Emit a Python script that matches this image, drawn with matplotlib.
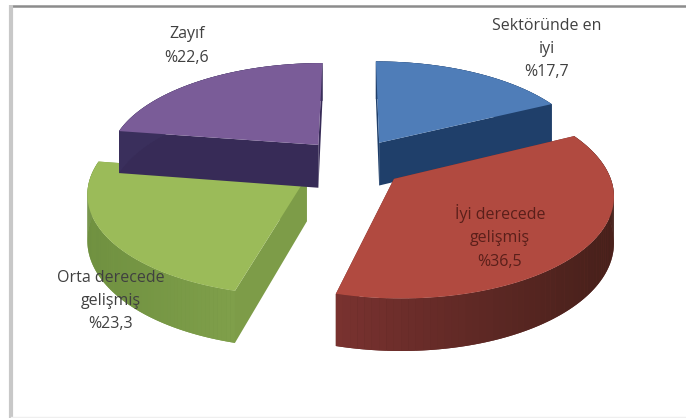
import numpy as np
import matplotlib
matplotlib.use('Agg')
import matplotlib.pyplot as plt
from matplotlib.colors import to_rgb

labels = ['Sektöründe en\niyi', 'İyi derecede\ngelişmiş', 'Orta derecede\ngelişmiş', 'Zayıf']
values = [17.7, 36.5, 23.3, 22.6]
top_colors = ['#4f7db8', '#b14a40', '#9bbb59', '#7a5c98']
rim_left = ['#1f3f6a', '#7a3230', '#6f9040', '#3a2f5c']
rim_right = ['#1f3f6a', '#46201a', '#7f9f4a', '#3a2f5c']
wall_colors = ['#1f3f6a', '#6a2a28', '#7d9c48', '#372b57']
label_colors = ['#404040', '#5a1f1a', '#404040', '#404040']
label_pos = [(547, 49), (500, 237), (111, 301), (187, 46)]

# pie projection, in figure pixels
CX, CY = 352, 163
SX, SY = 212, 98
PERSP = 0.14
EXPLODE = 0.25
DEPTH = 44


def project(x, y, z=0.0):
    w = 1 + PERSP * y
    return CX + SX * x / w, CY - SY * y / w + DEPTH * z / w


def mix(a, b, t):
    a, b = np.array(to_rgb(a)), np.array(to_rgb(b))
    return a + (b - a) * t


fig = plt.figure(figsize=(6.86, 4.18), dpi=100)
ax = fig.add_axes([0, 0, 1, 1])
ax.set_xlim(0, 686)
ax.set_ylim(418, 0)
ax.axis('off')

# chart frame
ax.plot([11, 686], [5.5, 5.5], color='#8c8c8c', lw=1.8, solid_capstyle='butt')
ax.plot([11, 11], [5, 418], color='#c8c8c8', lw=3, solid_capstyle='butt')
ax.plot([11, 686], [417, 417], color='#efefef', lw=1)

# slices run clockwise from the top
total = sum(values)
ends = 90 - np.cumsum(values) / total * 360
starts = np.r_[90, ends[:-1]]


def draw_slice(i):
    a0, a1 = np.radians(starts[i]), np.radians(ends[i])
    mid = (a0 + a1) / 2
    ox, oy = EXPLODE * np.cos(mid), EXPLODE * np.sin(mid)
    t = np.linspace(a0, a1, 80)
    x = ox + np.cos(t)
    y = oy + np.sin(t)

    # radial walls, only the ones facing the viewer show after the top face
    for idx in (0, -1):
        wx = [ox, x[idx], x[idx], ox]
        wy = [oy, y[idx], y[idx], oy]
        wz = [0, 0, 1, 1]
        px, py = project(np.array(wx), np.array(wy), np.array(wz))
        ax.fill(px, py, color=wall_colors[i], lw=0, zorder=2 + i * 0.1)

    # curved rim, shaded left to right over a flat base so no seams show
    tx, ty = project(x, y)
    bx, by = project(x, y, 1.0)
    span = max(tx.max() - tx.min(), 1)
    base = mix(rim_left[i], rim_right[i], 0.5)
    ax.fill(np.r_[tx, bx[::-1]], np.r_[ty, by[::-1]], color=base, lw=0, zorder=2 + i * 0.1)
    for j in range(len(t) - 1):
        col = mix(rim_left[i], rim_right[i], (tx[j] - tx.min()) / span)
        ax.fill([tx[j], tx[j + 1], bx[j + 1], bx[j]],
                [ty[j], ty[j + 1], by[j + 1], by[j]],
                color=col, lw=0, zorder=2 + i * 0.1)

    ax_, ay_ = project(ox, oy)
    ax.fill(np.r_[ax_, tx], np.r_[ay_, ty], color=top_colors[i], lw=0, zorder=2.05 + i * 0.1)


# back slices first so the front ones sit on top
for i in [3, 0, 2, 1]:
    draw_slice(i)

for name, val, col, (lx, ly) in zip(labels, values, label_colors, label_pos):
    text = name + '\n%' + f'{val:.1f}'.replace('.', ',')
    ax.text(lx, ly, text, ha='center', va='center', fontsize=11.5,
            family='Open Sans', color=col, linespacing=1.6, zorder=5)

fig.savefig('out.png', dpi=100)
